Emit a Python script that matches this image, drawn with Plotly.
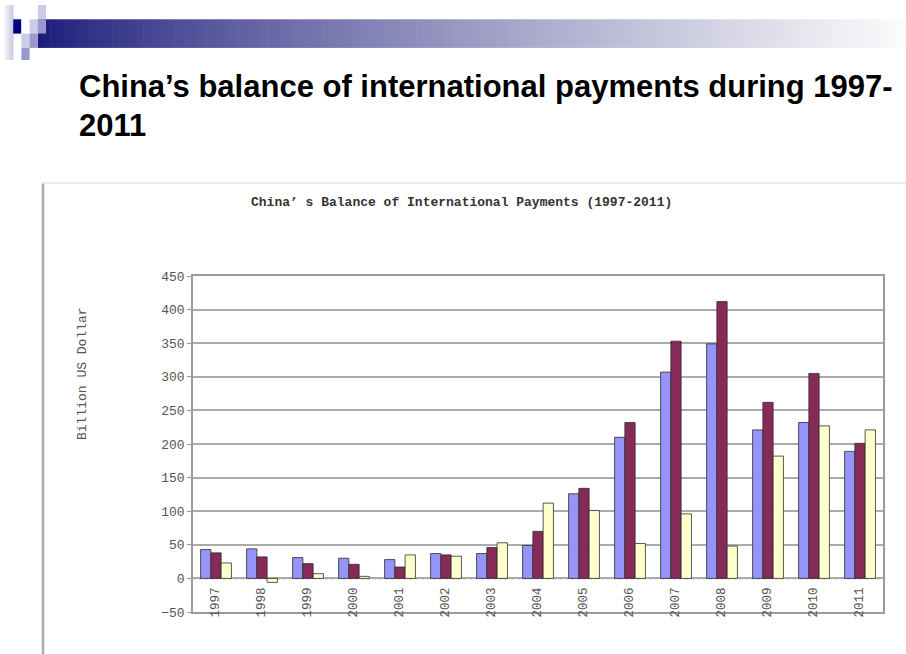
import plotly.graph_objects as go

# ---------------- data ----------------
years = ["1997", "1998", "1999", "2000", "2001", "2002", "2003", "2004",
         "2005", "2006", "2007", "2008", "2009", "2010", "2011"]
series1 = [43, 44, 31, 30, 28, 37, 37, 49, 126, 210, 307, 349, 221, 232, 189]
series2 = [38, 32, 22, 21, 17, 35, 46, 70, 134, 232, 353, 412, 262, 305, 201]
series3 = [23, -6, 7, 3, 35, 33, 53, 112, 101, 52, 96, 48, 182, 227, 221]
series_names = ["Series1", "Series2", "Series3"]
slide_title_1 = "China’s balance of international payments during 1997-"
slide_title_2 = "2011"
chart_title = "China’ s Balance of International Payments (1997-2011)"
y_title = "Billion US Dollar"

W, H = 906, 654


def px(x):
    return x / W


def py(y):
    return 1 - y / H


fig = go.Figure()
colors = ["#9494FA", "#862A57", "#FFFFCC"]
for name, vals, col in zip(series_names, [series1, series2, series3], colors):
    fig.add_trace(go.Bar(
        x=years, y=vals, name=name, showlegend=False,
        marker=dict(color=col, line=dict(color="#2e2e2e", width=0.8)),
    ))

shapes = []

# ---- header decoration: gradient bar ----
x_start, x_end = 37.8, 906.0
n = 140
c0 = (26, 26, 122)
c1 = (252, 252, 252)
step = (x_end - x_start) / n
for i in range(n):
    t = (i + 0.5) / n
    t = t ** 0.8
    r = int(c0[0] + (c1[0] - c0[0]) * t)
    g = int(c0[1] + (c1[1] - c0[1]) * t)
    b = int(c0[2] + (c1[2] - c0[2]) * t)
    shapes.append(dict(type="rect", xref="paper", yref="paper",
                       x0=px(x_start + i * step), x1=px(x_start + (i + 1) * step + 0.6),
                       y0=py(47.9), y1=py(19.3), line=dict(width=0),
                       fillcolor=f"rgb({r},{g},{b})", layer="below"))

# squares
cw, ch = 8.2, 14.3
gx0, gy0 = 5.0, 5.0
LIGHT = "#CCCCE6"
MED = "#9999CC"
NAVY = "#000080"


def cell(c, r, color, bottom=None):
    y_bot = gy0 + (r + 1) * ch if bottom is None else bottom
    shapes.append(dict(type="rect", xref="paper", yref="paper",
                       x0=px(gx0 + c * cw), x1=px(gx0 + (c + 1) * cw),
                       y0=py(y_bot), y1=py(gy0 + r * ch),
                       line=dict(width=0), fillcolor=color, layer="below"))


# left light strip with soft gradient
for k in range(5):
    t = k / 4
    r = int(238 - (238 - 204) * t)
    b = int(247 - (247 - 230) * t)
    shapes.append(dict(type="rect", xref="paper", yref="paper",
                       x0=px(gx0 + k * cw / 5), x1=px(gx0 + (k + 1) * cw / 5 + 0.3),
                       y0=py(60), y1=py(gy0),
                       line=dict(width=0), fillcolor=f"rgb({r},{r},{b})", layer="below"))
cell(4, 0, LIGHT)
cell(1, 1, NAVY)
cell(2, 1, "#FFFFFF")
cell(3, 1, LIGHT)
cell(4, 1, MED)
cell(2, 2, LIGHT)
cell(3, 2, MED)
cell(2, 3, MED, bottom=60)

# ---- chart frame ----
shapes.append(dict(type="line", xref="paper", yref="paper",
                   x0=px(43), x1=px(43), y0=py(183), y1=py(660),
                   line=dict(color="#ABABAB", width=2.5)))
shapes.append(dict(type="line", xref="paper", yref="paper",
                   x0=px(42), x1=px(910), y0=py(183), y1=py(183),
                   line=dict(color="#E6E6E6", width=1.5)))

# zero line (category axis crossing)
shapes.append(dict(type="line", xref="x domain", yref="y",
                   x0=0, x1=1, y0=0, y1=0,
                   line=dict(color="#8a8a8a", width=1.5, dash="dot"), layer="below"))

annotations = [
    dict(text=f"<b>{slide_title_1}</b>", x=px(77), y=py(87), xref="paper", yref="paper",
         xanchor="left", yanchor="middle", showarrow=False,
         font=dict(family="Liberation Sans", size=31, color="#000000")),
    dict(text=f"<b>{slide_title_2}</b>", x=px(77), y=py(126), xref="paper", yref="paper",
         xanchor="left", yanchor="middle", showarrow=False,
         font=dict(family="Liberation Sans", size=31, color="#000000")),
    dict(text=f"<b>{chart_title}</b>", x=px(461.5), y=py(203), xref="paper", yref="paper",
         xanchor="center", yanchor="middle", showarrow=False,
         font=dict(family="Liberation Mono", size=13, color="#333333")),
    dict(text=y_title, x=px(82), y=py(374), xref="paper", yref="paper",
         xanchor="center", yanchor="middle", showarrow=False, textangle=-90,
         font=dict(family="Liberation Mono", size=13, color="#555555")),
]
for idx, yr in enumerate(years):
    annotations.append(dict(text=yr, x=idx, y=0, xref="x", yref="y",
                            xanchor="center", yanchor="middle", yshift=-24,
                            showarrow=False, textangle=-90,
                            font=dict(family="Liberation Mono", size=12.5, color="#555555")))

fig.update_layout(
    width=W, height=H, autosize=False,
    margin=dict(l=0, r=0, t=0, b=0, pad=0),
    paper_bgcolor="white", plot_bgcolor="white",
    barmode="group", bargap=0.33, bargroupgap=0,
    shapes=shapes, annotations=annotations,
    xaxis=dict(type="category", categoryorder="array", categoryarray=years,
               range=[-0.5, len(years) - 0.5], autorange=False,
               domain=[px(193), px(883)], showticklabels=False, showgrid=False,
               showline=True, linecolor="#9a9a9a", linewidth=1.5, mirror=True,
               ticks="", zeroline=False, automargin=False, fixedrange=True),
    yaxis=dict(domain=[py(612), py(276)], range=[-50, 450], autorange=False,
               tick0=0, dtick=50,
               showgrid=True, gridcolor="#ababab", gridwidth=1.5,
               showline=True, linecolor="#9a9a9a", linewidth=1.5, mirror=True,
               ticks="outside", ticklen=4, tickcolor="#9a9a9a",
               tickfont=dict(family="Liberation Mono", size=13, color="#555555"),
               zeroline=False, automargin=False, fixedrange=True),
)

fig.write_html("out.html")
